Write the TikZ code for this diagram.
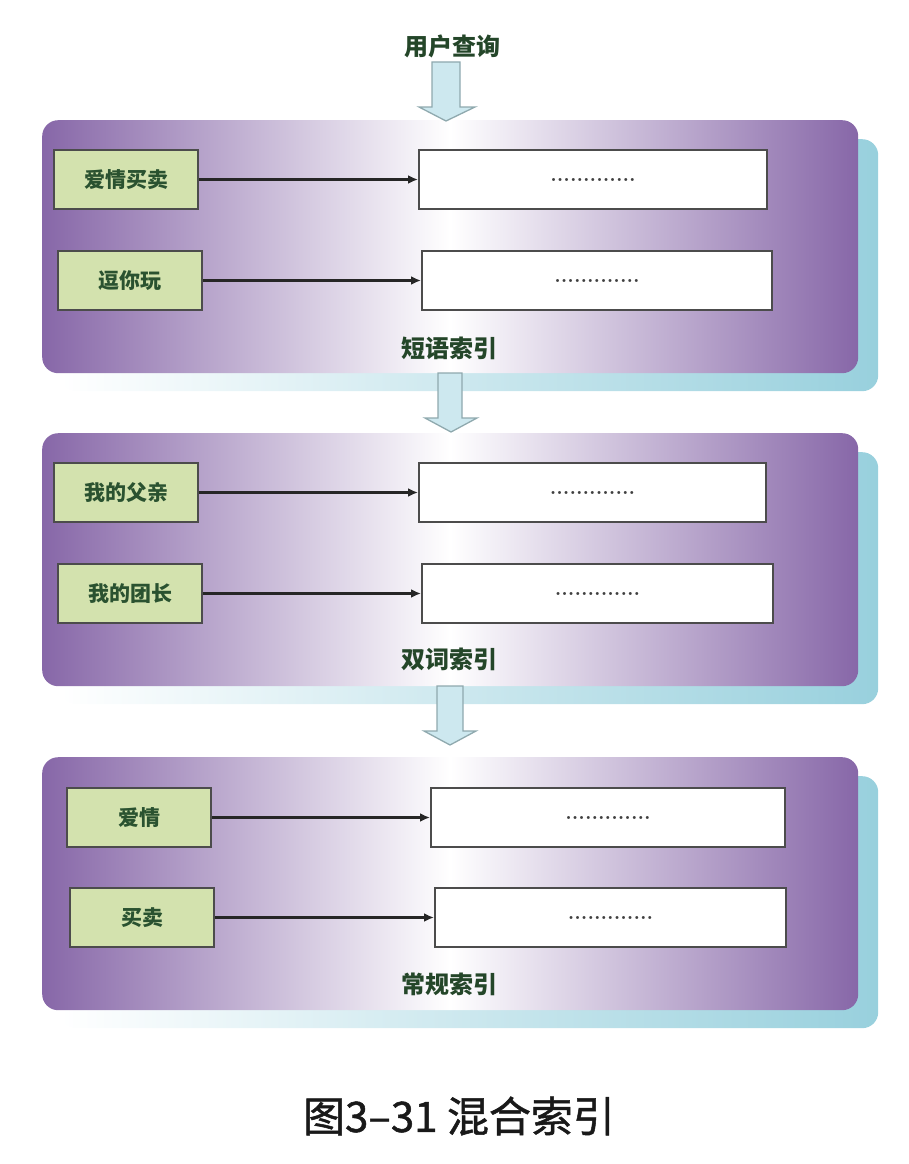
\documentclass[tikz,border=0pt]{standalone}
\usepackage{fontspec}
\newfontfamily\cjk{Noto Sans CJK SC}
\newfontfamily\cjkcap[FakeBold=1.2]{Noto Sans CJK SC}
\usetikzlibrary{arrows.meta}
\definecolor{pp}{HTML}{8767A8}
\definecolor{sh}{HTML}{98D0DD}
\definecolor{gfill}{HTML}{D3E2AE}
\definecolor{gtext}{HTML}{2A5230}
\definecolor{afill}{HTML}{CDE8EF}
\definecolor{aline}{HTML}{8FA9AE}
\begin{document}
\begin{tikzpicture}[x=1pt,y=-1pt,
  panel/.style={rounded corners=16pt, left color=pp, right color=pp, middle color=white, draw=none,
    minimum width=816pt, minimum height=253pt, anchor=north west, inner sep=0pt},
  shadowbox/.style={rounded corners=16pt, left color=white, right color=sh, draw=none,
    minimum width=818pt, minimum height=252pt, anchor=north west, inner sep=0pt},
  key/.style={draw=black!70, line width=2pt, fill=gfill, minimum width=144pt, minimum height=59pt,
    anchor=north west, inner sep=0pt, font=\cjk\bfseries\fontsize{21}{21}\selectfont, text=gtext},
  post/.style={draw=black!70, line width=2pt, fill=white, minimum height=59pt,
    anchor=north west, inner sep=0pt},
  dots/.style={font=\bfseries\fontsize{21}{21}\selectfont, text=black!75, inner sep=0pt},
  lbl/.style={font=\cjk\bfseries\fontsize{24}{24}\selectfont, text=gtext!85!black, inner sep=0pt},
  link/.style={-{Latex[length=10pt,width=9pt]}, line width=2.2pt, draw=black!85},
  bigarrow/.style={fill=afill, draw=aline, line width=1.3pt, line join=miter}
]
\useasboundingbox (0,0) rectangle (908,1164);

% title
\node[lbl] (title) at (452,46) {用户查询};

% ---------- panel 1 ----------
\node[shadowbox] (s1) at (60,139) {};
\node[panel] (p1) at (42,120) {};
\node[key] (k1) at (53,149) {爱情买卖};
\node[key] (k2) at (57,250) {逗你玩};
\node[post, minimum width=348pt] (w1) at (418,149) {};
\node[post, minimum width=350pt] (w2) at (421,250) {};
\node[dots] at (w1.center) {.............};
\node[dots] at (w2.center) {.............};
\draw[link] (k1.east) -- (w1.west |- k1.east);
\draw[link] (k2.east) -- (w2.west |- k2.east);
\node[lbl] (l1) at (449,348) {短语索引};

% ---------- panel 2 ----------
\node[shadowbox] (s2) at (60,452) {};
\node[panel] (p2) at (42,433) {};
\node[key] (k3) at (53,462) {我的父亲};
\node[key] (k4) at (57,563) {我的团长};
\node[post, minimum width=347pt] (w3) at (418,462) {};
\node[post, minimum width=351pt] (w4) at (421,563) {};
\node[dots] at (w3.center) {.............};
\node[dots] at (w4.center) {.............};
\draw[link] (k3.east) -- (w3.west |- k3.east);
\draw[link] (k4.east) -- (w4.west |- k4.east);
\node[lbl] (l2) at (449,659) {双词索引};

% ---------- panel 3 ----------
\node[shadowbox] (s3) at (60,776) {};
\node[panel] (p3) at (42,757) {};
\node[key] (k5) at (66,787) {爱情};
\node[key] (k6) at (69,887) {买卖};
\node[post, minimum width=354pt] (w5) at (430,787) {};
\node[post, minimum width=351pt] (w6) at (434,887) {};
\node[dots] at (w5.center) {.............};
\node[dots] at (w6.center) {.............};
\draw[link] (k5.east) -- (w5.west |- k5.east);
\draw[link] (k6.east) -- (w6.west |- k6.east);
\node[lbl] (l3) at (449,984) {常规索引};

% ---------- big arrows ----------
\draw[bigarrow] (432,62) -- (460,62) -- (460,107) -- (475,107) -- (446,121) -- (419,107) -- (432,107) -- cycle;
\draw[bigarrow] (438,373) -- (462,373) -- (462,418) -- (477,418) -- (451,432) -- (425,418) -- (438,418) -- cycle;
\draw[bigarrow] (437,686) -- (463,686) -- (463,731) -- (476,731) -- (450,745) -- (424,731) -- (437,731) -- cycle;

% caption
\node[font=\cjkcap\fontsize{42}{42}\selectfont, text=black!90, inner sep=0pt] (cap) at (459,1116) {图3–31 混合索引};
\end{tikzpicture}
\end{document}
